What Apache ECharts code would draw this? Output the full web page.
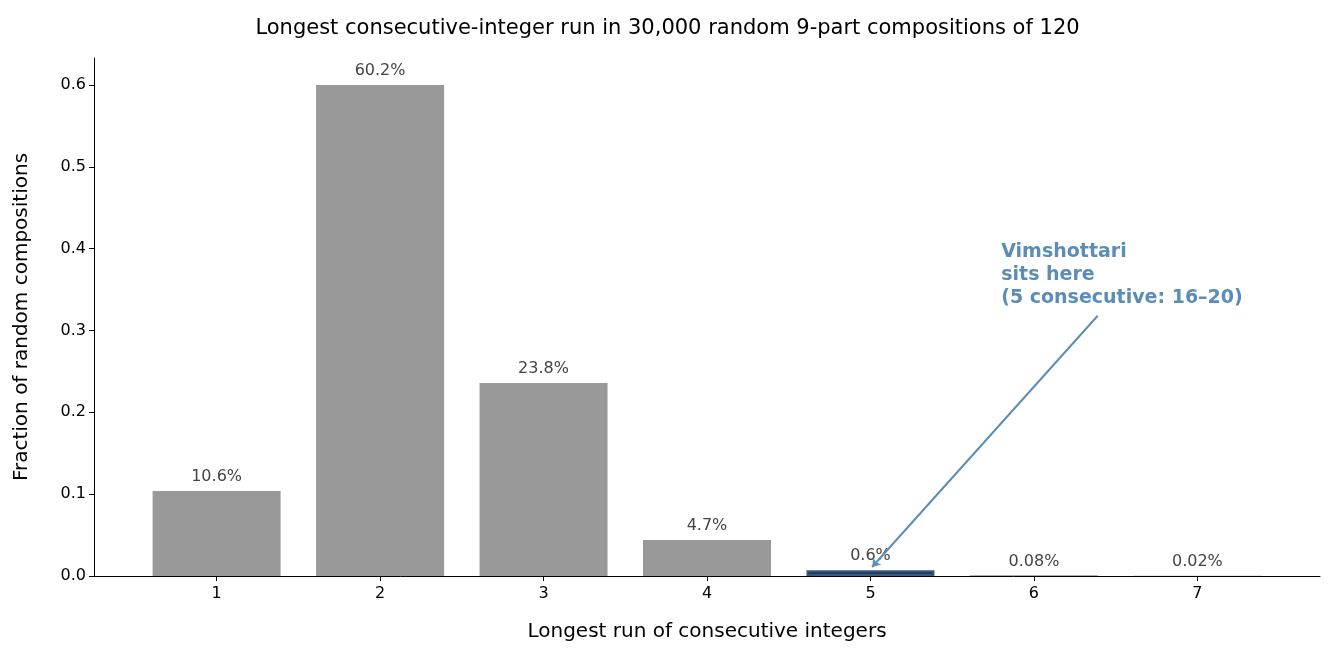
<!DOCTYPE html><html><head><meta charset="utf-8">
<script src="https://cdn.jsdelivr.net/npm/echarts@6/dist/echarts.min.js"></script>
<style>body{margin:0}#c{width:1335px;height:657px}</style></head><body><div id="c"></div>
<script>
const runs=[1,2,3,4,5,6,7];
const fractions=[0.104,0.600,0.236,0.044,0.007,0.0008,0.0002];
const pctLabels=['10.6%','60.2%','23.8%','4.7%','0.6%','0.08%','0.02%'];
const yTicks=[0,0.1,0.2,0.3,0.4,0.5,0.6];
const F='DejaVu Sans';
const chart=echarts.init(document.getElementById('c'));
chart.setOption({
animation:false,
title:{text:'Longest consecutive-integer run in 30,000 random 9-part compositions of 120',left:'center',top:13,textStyle:{fontFamily:F,fontSize:21,fontWeight:'normal',color:'#000'}},
grid:{left:94,right:15,top:58,bottom:81},
xAxis:{type:'value',min:0.25,max:7.75,name:'Longest run of consecutive integers',nameLocation:'middle',nameGap:46,nameTextStyle:{fontFamily:F,fontSize:20,color:'#000'},
 splitLine:{show:false},axisLine:{lineStyle:{color:'#000'}},
 axisTick:{show:true,customValues:runs,lineStyle:{color:'#000'}},
 axisLabel:{customValues:runs,fontFamily:F,fontSize:16,color:'#000',margin:10}},
yAxis:{type:'value',min:0,max:0.633,name:'Fraction of random compositions',nameLocation:'middle',nameGap:62,nameTextStyle:{fontFamily:F,fontSize:20,color:'#000'},
 splitLine:{show:false},axisLine:{show:true,lineStyle:{color:'#000'}},
 axisTick:{show:true,customValues:yTicks,lineStyle:{color:'#000'}},
 axisLabel:{customValues:yTicks,fontFamily:F,fontSize:16,color:'#000',formatter:v=>v===0?'0.0':String(v)}},
series:[{type:'bar',barWidth:128,
 data:runs.map((r,i)=>({value:[r,fractions[i]],itemStyle:i===4?{color:'#1f3a5c',borderColor:'#3a5a80',borderWidth:2}:{color:'#999999'}})),
 label:{show:true,position:'top',distance:6,fontFamily:F,fontSize:16,color:'#444',formatter:p=>pctLabels[p.dataIndex]},
 markLine:{silent:true,symbol:['none','arrow'],symbolSize:8,label:{show:false},lineStyle:{color:'#5b8db8',width:2,type:'solid'},
  data:[[{coord:[6.39,0.318]},{coord:[5.01,0.011]}]]}}
]});
const p=chart.convertToPixel({gridIndex:0},[5.8,0.407]);
chart.setOption({graphic:[{type:'text',left:p[0],top:p[1]-2,style:{text:'Vimshottari\nsits here\n(5 consecutive: 16–20)',font:'bold 19px DejaVu Sans',fill:'#5b8db8',lineHeight:23}}]});
</script></body></html>
